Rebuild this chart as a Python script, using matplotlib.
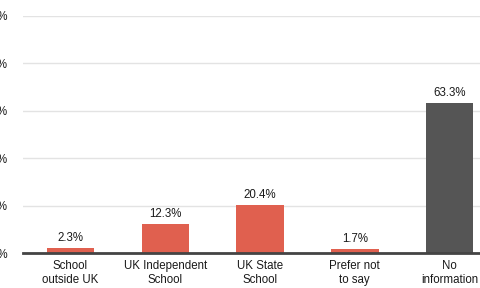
import matplotlib.pyplot as plt
from matplotlib.ticker import FuncFormatter

categories = ["School\noutside UK", "UK Independent\nSchool", "UK State\nSchool",
              "Prefer not\nto say", "No\ninformation"]
values = [2.3, 12.3, 20.4, 1.7, 63.3]
bar_colors = ["#e0604f", "#e0604f", "#e0604f", "#e0604f", "#555555"]
yticks = [0, 20, 40, 60, 80, 100]

plt.rcParams['font.family'] = ['Liberation Sans', 'DejaVu Sans']

fig = plt.figure(figsize=(4.8, 2.88), dpi=100)
ax = fig.add_axes([23 / 480, 35 / 288, 474 / 480, 237 / 288])

x = range(len(categories))
bars = ax.bar(x, values, width=0.5, color=bar_colors, zorder=3)
for b, v in zip(bars, values):
    ax.text(b.get_x() + b.get_width() / 2, v + 1.5, f"{v}%",
            ha="center", va="bottom", fontsize=8.3, color="#1a1a1a")

ax.set_xlim(-0.5, 4.5)
ax.set_ylim(0, 100)
ax.set_yticks(yticks)
ax.yaxis.set_major_formatter(FuncFormatter(lambda v, p: f"{int(v)}%"))
ax.set_xticks(list(x))
ax.set_xticklabels(categories, fontsize=8.3, color="#1a1a1a", linespacing=1.25)
ax.tick_params(axis="y", length=0, pad=11, labelsize=8.3, labelcolor="#1a1a1a")
ax.tick_params(axis="x", length=0, pad=5)

ax.grid(axis="y", color="#e3e3e3", linewidth=1, zorder=0)
for s in ["top", "right", "left"]:
    ax.spines[s].set_visible(False)
ax.spines["bottom"].set_color("#444444")
ax.spines["bottom"].set_linewidth(2)
ax.spines["bottom"].set_zorder(4)

fig.savefig("out.png", dpi=100)
